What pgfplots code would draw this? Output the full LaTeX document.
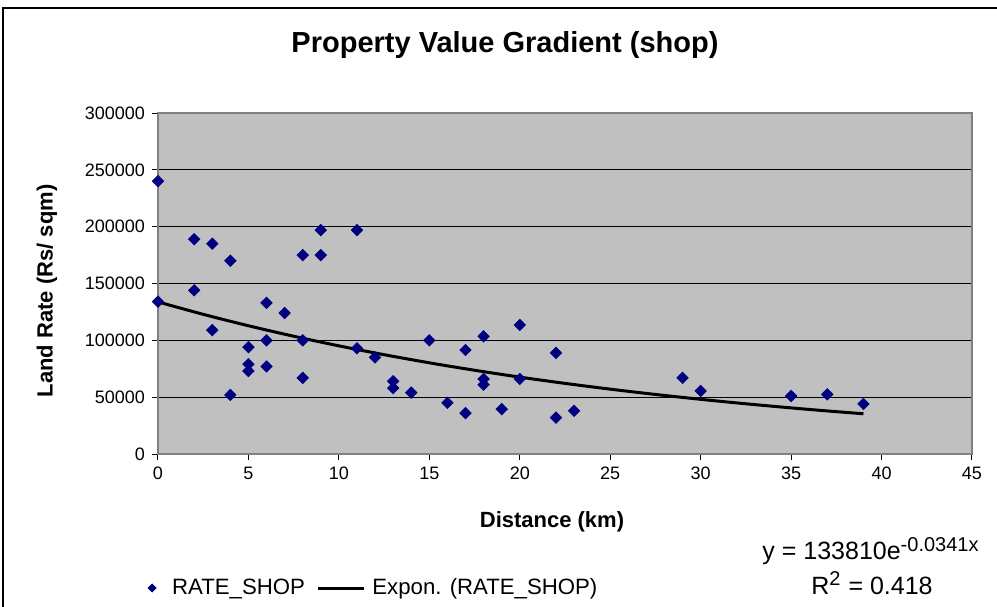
\documentclass[border=0pt]{standalone}
\usepackage{pgfplots}
\pgfplotsset{compat=1.18}
\usepackage{fontspec}
\setmainfont{Liberation Sans}
\definecolor{navyb}{RGB}{0,0,128}
\definecolor{plotgray}{RGB}{192,192,192}
\definecolor{bordergray}{RGB}{128,128,128}
\pgfplotsset{
  scatleg/.style={legend image code/.code={\path[draw=none] (-2pt,0pt) -- (8pt,0pt); \draw[##1, mark size=1.4pt] plot coordinates {(0pt,0pt)};}},
  lineleg/.style={legend image code/.code={\draw[##1, draw=black, line width=1.5pt] (0pt,0pt) -- (23pt,0pt); \path[draw=none] (23pt,0pt) -- (25pt,0pt);}}
}
\begin{document}
\begin{tikzpicture}[x=1pt,y=1pt]
\useasboundingbox (0,0) rectangle (498.5,303);
\draw[black, line width=0.7pt] (1.5,299) rectangle (510,-10);
\begin{axis}[
  at={(79pt,76pt)}, anchor=south west, scale only axis,
  width=407pt, height=170.5pt,
  xmin=0, xmax=45, ymin=0, ymax=300000,
  xtick={0,5,...,45}, ytick={0,50000,...,300000},
  scaled y ticks=false,
  yticklabel style={/pgf/number format/fixed, /pgf/number format/1000 sep={}},
  /pgf/number format/assume math mode=true,
  tick label style={font=\fontsize{9}{10}\selectfont, black},
  axis background/.style={fill=plotgray},
  ymajorgrids, major grid style={black, line width=0.5pt},
  axis line style={bordergray, line width=0.7pt},
  tick align=outside, major tick length=3pt, tick style={black, line width=0.5pt},
  xtick pos=bottom, ytick pos=left,
  legend style={draw=none, fill=none, at={(-0.02,-0.393)}, anchor=west,
    font=\fontsize{11.1}{13}\selectfont, legend columns=2,
    /tikz/every even column/.append style={column sep=4pt}},
  legend cell align=left,
]
\addplot[only marks, mark=square*, mark size=2pt, color=navyb, mark options={fill=navyb, rotate=45}, scatleg]
coordinates {
(0,240000) (0,134000)
(2,189000) (2,144000)
(3,185000) (3,109000)
(4,170000) (4,52000)
(5,94000) (5,79000) (5,73000)
(6,133000) (6,100000) (6,77000)
(7,124000)
(8,175000) (8,100000) (8,67000)
(9,197000) (9,175000)
(11,197000) (11,93000)
(12,85000)
(13,64000) (13,58000)
(14,54000)
(15,100000)
(16,45000)
(17,91500) (17,36000)
(18,103500) (18,66000) (18,61000)
(19,39500)
(20,113500) (20,66000)
(22,89000) (22,32000)
(23,38000)
(29,67000)
(30,55500)
(35,51000)
(37,52500)
(39,44000)
};
\addlegendentry{RATE\_SHOP}
\addplot[black, line width=1.5pt, smooth, no marks, lineleg]
coordinates {
(0,133810) (2.5,122875) (5,112834) (7.5,103616) (10,95146) (12.5,87373)
(15,80231) (17.5,73677) (20,67654) (22.5,62128) (25,57049) (27.5,52390)
(30,48106) (32.5,44177) (35,40566) (37,37892) (39,35397)
};
\addlegendentry{Expon. (RATE\_SHOP)}
\end{axis}
\node[font=\fontsize{14.5}{16}\bfseries\selectfont] at (252.5,280.5) {Property Value Gradient (shop)};
\node[font=\fontsize{11}{13}\bfseries\selectfont, rotate=90] at (23.5,157.5) {Land Rate (Rs/ sqm)};
\node[font=\fontsize{11}{13}\bfseries\selectfont] at (276,42) {Distance (km)};
\node[font=\fontsize{12.5}{14}\selectfont] at (435.5,27.5) {y = 133810e\textsuperscript{\fontsize{10}{11}\selectfont -0.0341x}};
\node[font=\fontsize{12.5}{14}\selectfont] at (436,11.5) {R\textsuperscript{\fontsize{10}{11}\selectfont 2} = 0.418};
\end{tikzpicture}
\end{document}
